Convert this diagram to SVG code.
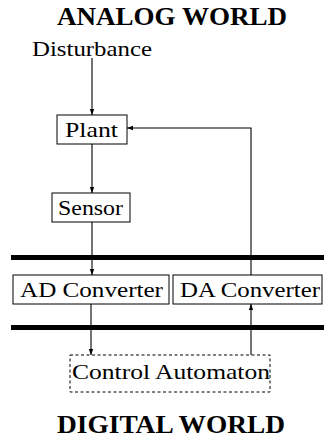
<svg xmlns="http://www.w3.org/2000/svg" width="324" height="445" viewBox="0 0 324 445" font-family="'Liberation Serif', 'DejaVu Serif', 'Times New Roman', serif">
<style>
text{font-family:"Liberation Serif","DejaVu Serif","Times New Roman",serif;fill:#000}
.t{font-size:26px;font-weight:bold}
.l{font-size:21px}
.box{fill:#fff;stroke:#000;stroke-width:1}
.dash{fill:#fff;stroke:#000;stroke-width:1;stroke-dasharray:3,2.5}
.bar{stroke:#000;stroke-width:5}
.c{fill:none;stroke:#000;stroke-width:1.1;marker-end:url(#ah)}
</style>
<defs>
<marker id="ah" viewBox="0 0 6 6" refX="6" refY="3" markerWidth="6" markerHeight="6" markerUnits="userSpaceOnUse" orient="auto">
<path d="M0,0.8 L6,3 L0,5.2 z" fill="#000"/>
</marker>
</defs>
<rect width="324" height="445" fill="#fff"/>
<g id="titles">
<text class="t" x="57" y="25" textLength="230" lengthAdjust="spacingAndGlyphs">ANALOG WORLD</text>
<text class="t" x="57" y="433" textLength="228" lengthAdjust="spacingAndGlyphs">DIGITAL WORLD</text>
</g>
<g id="bars">
<line class="bar" x1="11" y1="257.5" x2="324" y2="257.5"/>
<line class="bar" x1="11" y1="327.5" x2="324" y2="327.5"/>
</g>
<g id="disturbance">
<text class="l" x="32" y="56" textLength="120" lengthAdjust="spacingAndGlyphs">Disturbance</text>
</g>
<g id="plant">
<rect class="box" x="57" y="115" width="70" height="29"/>
<text class="l" x="65" y="137" textLength="53" lengthAdjust="spacingAndGlyphs">Plant</text>
</g>
<g id="sensor">
<rect class="box" x="52" y="193" width="78" height="29"/>
<text class="l" x="58" y="215" textLength="65" lengthAdjust="spacingAndGlyphs">Sensor</text>
</g>
<g id="ad">
<rect class="box" x="13" y="275" width="156" height="29"/>
<text class="l" x="20" y="297" textLength="143" lengthAdjust="spacingAndGlyphs">AD Converter</text>
</g>
<g id="da">
<rect class="box" x="173" y="275" width="149" height="29"/>
<text class="l" x="180" y="297" textLength="140" lengthAdjust="spacingAndGlyphs">DA Converter</text>
</g>
<g id="control">
<rect class="dash" x="70" y="355" width="200" height="37"/>
<text class="l" x="72" y="379" textLength="198" lengthAdjust="spacingAndGlyphs">Control Automaton</text>
</g>
<g id="connectors">
<path class="c" d="M92,58 V115"/>
<path class="c" d="M92,144 V193"/>
<path class="c" d="M92,222 V275"/>
<path class="c" d="M91,304 V355"/>
<path class="c" d="M251,355 V304"/>
<path class="c" d="M251,275 V128 H127"/>
</g>
</svg>
